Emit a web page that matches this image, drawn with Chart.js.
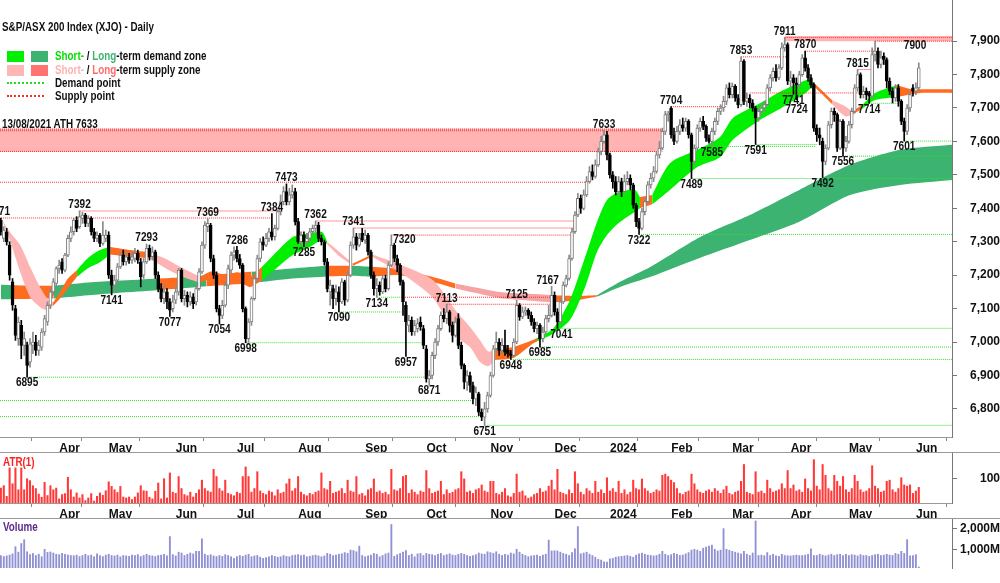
<!DOCTYPE html>
<html>
<head>
<meta charset="utf-8">
<script src="https://cdn.jsdelivr.net/npm/chart.js@4.4.1/dist/chart.umd.min.js"></script>
<style>
  body { margin: 0; background: #fff; }
  #wrap { position: relative; width: 1000px; height: 583px; overflow: hidden;
          font-family: 'Liberation Sans Narrow', 'Arial Narrow', 'Liberation Sans', Arial, sans-serif;
          font-weight: bold; font-size: 12px; color: #111; }
  canvas { position: absolute; left: 0; }
  .sep { position: absolute; left: 0; width: 1000px; height: 1px; background: #999; z-index: 2; }
  .txt { position: absolute; white-space: nowrap; line-height: 14px; z-index: 3;
         transform: scaleX(0.82); transform-origin: 0 0; }
  .sw { position: absolute; width: 17px; height: 11px; z-index: 3; }
  .dot { position: absolute; width: 37px; height: 0; border-top: 2px dotted; z-index: 3; }
</style>
</head>
<body>
<div id="wrap">
  <canvas id="cMain" width="1000" height="452" style="top:0"></canvas>
  <canvas id="cAtr" width="1000" height="66" style="top:452px"></canvas>
  <canvas id="cVol" width="1000" height="65" style="top:518px"></canvas>
  <div class="sep" style="top:452px"></div>
  <div class="sep" style="top:518px"></div>

  <div class="txt" style="left:2px;top:20px">S&amp;P/ASX 200 Index (XJO) - Daily</div>
  <div class="sw" style="left:7px;top:51px;background:#00ee00"></div>
  <div class="sw" style="left:31px;top:51px;background:#3cb371"></div>
  <div class="txt" style="left:55px;top:49px"><span style="color:#00dd00">Short-</span> / <span style="color:#3cb371">Long</span>-term demand zone</div>
  <div class="sw" style="left:7px;top:65px;background:#ffb6b6"></div>
  <div class="sw" style="left:31px;top:65px;background:#ff7373"></div>
  <div class="txt" style="left:55px;top:63px"><span style="color:#ffb0b0">Short-</span> / <span style="color:#ff6b6b">Long</span>-term supply zone</div>
  <div class="dot" style="left:7px;top:82px;border-color:#22dd22"></div>
  <div class="txt" style="left:55px;top:76px">Demand point</div>
  <div class="dot" style="left:7px;top:95px;border-color:#ff2a2a"></div>
  <div class="txt" style="left:55px;top:89px">Supply point</div>
  <div class="txt" style="left:2px;top:117px">13/08/2021 ATH 7633</div>
  <div class="txt" style="left:3px;top:455px;color:#ff2020">ATR(1)</div>
  <div class="txt" style="left:3px;top:520px;color:#5b2a8c">Volume</div>
</div>

<script>
// ---- axis labels ----
const monthIdx = [19, 36, 59, 80, 101, 124, 145, 167, 189, 208, 229, 250, 270, 290, 313];
const monthLbl = ['Apr', 'May', 'Jun', 'Jul', 'Aug', 'Sep', 'Oct', 'Nov', 'Dec', '2024', 'Feb', 'Mar', 'Apr', 'May', 'Jun'];
const priceTicks = [6800, 6900, 7000, 7100, 7200, 7300, 7400, 7500, 7600, 7700, 7800, 7900];
const atrTicks = [100];
const volTicks = [1000, 2000];

// ---- daily candles (trading day index 0 = 7 Mar 2023) ----
const opens = [
  7364,7310,7330,7290,7180,7100,7010,7050,6990,6990,
  6940,6990,7000,6975,6985,7030,7060,7110,7150,7175,
  7220,7240,7215,7260,7310,7330,7365,7345,7370,7380,
  7355,7370,7330,7310,7320,7295,7310,7320,7200,7170,
  7185,7225,7260,7240,7255,7245,7250,7265,7240,7200,
  7240,7280,7255,7270,7200,7160,7130,7150,7120,7100,
  7125,7150,7215,7130,7140,7120,7135,7120,7160,7210,
  7290,7345,7350,7250,7200,7100,7080,7110,7170,7215,
  7260,7275,7250,7230,7100,7010,7060,7130,7190,7250,
  7300,7290,7310,7330,7315,7340,7390,7420,7450,7420,
  7440,7450,7360,7300,7320,7300,7310,7330,7340,7350,
  7310,7300,7240,7150,7160,7130,7150,7120,7180,7125,
  7200,7290,7315,7290,7325,7305,7320,7270,7200,7160,
  7170,7150,7190,7160,7230,7290,7250,7230,7180,7110,
  7050,7065,7030,7040,7060,7040,6980,6890,6900,6960,
  7000,7040,7080,7070,7090,7050,7020,7070,6990,6930,
  6880,6900,6870,6830,6845,6790,6775,6800,6840,6900,
  6980,7000,6975,6990,6975,6965,6960,7000,7110,7075,
  7090,7095,7080,7060,7040,7050,7010,7030,7070,7080,
  7140,7090,7060,7120,7170,7190,7250,7330,7380,7430,
  7400,7440,7480,7510,7495,7530,7570,7600,7620,7560,
  7500,7480,7450,7480,7450,7480,7490,7470,7410,7360,
  7340,7390,7420,7470,7490,7510,7560,7580,7630,7680,
  7700,7620,7600,7630,7650,7640,7660,7620,7540,7580,
  7640,7660,7645,7610,7600,7630,7660,7690,7700,7720,
  7760,7740,7765,7730,7710,7840,7720,7730,7715,7700,
  7670,7690,7700,7710,7760,7790,7810,7790,7820,7880,
  7890,7780,7790,7775,7770,7800,7850,7820,7790,7770,
  7640,7620,7600,7540,7580,7650,7690,7680,7580,7660,
  7580,7600,7650,7690,7760,7800,7740,7750,7745,7735,
  7860,7870,7830,7855,7845,7780,7750,7730,7760,7720,
  7660,7630,7700,7760,7750,7760
];
const highs = [
  7371,7345,7340,7300,7190,7110,7075,7065,7030,7000,
  7010,7030,7020,7005,7040,7080,7120,7160,7190,7225,
  7245,7250,7265,7320,7345,7370,7375,7392,7388,7385,
  7378,7375,7340,7330,7325,7360,7335,7330,7215,7200,
  7235,7270,7275,7270,7265,7270,7280,7275,7250,7250,
  7293,7290,7285,7275,7210,7175,7170,7160,7130,7140,
  7165,7220,7220,7155,7150,7150,7145,7170,7220,7300,
  7360,7369,7355,7260,7210,7110,7125,7180,7230,7270,
  7285,7286,7262,7235,7105,7070,7135,7200,7260,7310,
  7315,7325,7340,7384,7350,7395,7440,7465,7473,7460,
  7470,7460,7370,7330,7330,7325,7340,7350,7362,7358,
  7320,7305,7250,7185,7170,7170,7165,7190,7185,7210,
  7300,7341,7325,7325,7340,7335,7325,7275,7210,7190,
  7180,7200,7200,7240,7320,7295,7260,7235,7185,7120,
  7080,7075,7065,7070,7075,7050,6990,6915,6970,7010,
  7050,7090,7100,7113,7095,7060,7075,7085,7000,6935,
  6915,6910,6880,6865,6850,6800,6820,6850,6910,6990,
  7030,7010,7010,7036,6990,6975,7010,7125,7115,7105,
  7105,7100,7090,7070,7060,7055,7045,7080,7110,7167,
  7150,7100,7130,7180,7200,7260,7340,7390,7445,7440,
  7455,7495,7525,7530,7545,7580,7615,7633,7630,7565,
  7510,7495,7495,7490,7500,7510,7500,7475,7415,7370,
  7400,7430,7480,7505,7525,7570,7600,7640,7690,7690,
  7704,7640,7645,7665,7670,7670,7665,7625,7590,7650,
  7670,7675,7650,7620,7640,7670,7700,7710,7735,7770,
  7775,7775,7770,7740,7853,7845,7745,7740,7725,7705,
  7700,7710,7720,7770,7800,7820,7830,7830,7895,7911,
  7895,7810,7800,7790,7810,7860,7870,7830,7800,7775,
  7650,7640,7610,7590,7660,7700,7700,7685,7665,7665,
  7615,7660,7700,7770,7815,7805,7765,7760,7750,7880,
  7900,7880,7870,7865,7850,7790,7760,7770,7770,7725,
  7670,7710,7750,7770,7775,7835
];
const lows = [
  7320,7300,7290,7185,7095,7005,6990,6950,6960,6895,
  6925,6965,6960,6960,6975,7020,7050,7100,7140,7165,
  7205,7205,7210,7255,7300,7320,7330,7340,7355,7345,
  7345,7320,7300,7300,7285,7290,7300,7190,7141,7150,
  7180,7220,7230,7230,7235,7235,7240,7235,7165,7190,
  7235,7245,7245,7190,7150,7120,7115,7100,7077,7090,
  7115,7140,7120,7110,7105,7110,7100,7110,7155,7205,
  7280,7330,7240,7190,7090,7054,7070,7105,7160,7205,
  7245,7240,7220,7090,6998,7000,7050,7125,7180,7240,
  7275,7285,7300,7305,7305,7335,7380,7410,7410,7410,
  7430,7350,7295,7290,7285,7290,7300,7320,7330,7300,
  7290,7230,7150,7110,7100,7110,7090,7115,7110,7120,
  7195,7280,7275,7285,7300,7295,7260,7190,7140,7134,
  7140,7145,7150,7155,7225,7240,7210,7170,7080,6957,
  7030,7020,7020,7030,7035,6980,6880,6871,6890,6950,
  6990,7035,7060,7055,7030,7000,7015,6980,6920,6860,
  6855,6850,6815,6810,6780,6765,6751,6790,6835,6895,
  6970,6960,6965,6960,6955,6948,6955,6995,7065,7070,
  7080,7070,7050,7030,7025,6985,7000,7025,7060,7075,
  7080,7041,7055,7115,7165,7185,7245,7325,7375,7385,
  7395,7435,7475,7485,7490,7525,7560,7595,7545,7490,
  7460,7440,7440,7435,7445,7470,7455,7400,7345,7322,
  7335,7380,7415,7460,7480,7505,7550,7575,7620,7660,
  7610,7590,7595,7620,7630,7630,7610,7489,7530,7575,
  7630,7635,7600,7595,7585,7620,7650,7680,7690,7710,
  7730,7730,7720,7700,7705,7710,7705,7700,7690,7591,
  7660,7680,7690,7705,7750,7780,7780,7785,7815,7870,
  7770,7760,7741,7724,7760,7795,7810,7780,7760,7630,
  7600,7590,7492,7530,7575,7640,7660,7570,7575,7556,
  7570,7595,7640,7685,7750,7730,7730,7725,7714,7730,
  7840,7820,7820,7830,7760,7740,7715,7720,7705,7650,
  7601,7620,7690,7735,7740,7755
];
const closes = [
  7330,7335,7300,7200,7110,7020,7060,6990,7010,6930,
  6995,7000,6975,6990,7030,7070,7110,7150,7180,7220,
  7230,7215,7260,7310,7330,7365,7340,7375,7380,7355,
  7370,7330,7310,7320,7295,7320,7320,7200,7170,7185,
  7225,7260,7240,7255,7245,7255,7265,7245,7195,7240,
  7280,7255,7270,7200,7160,7130,7150,7120,7095,7120,
  7150,7215,7130,7140,7120,7135,7115,7160,7210,7290,
  7350,7355,7250,7200,7100,7080,7110,7170,7220,7260,
  7270,7250,7230,7100,7010,7060,7130,7190,7250,7300,
  7290,7310,7330,7315,7340,7390,7420,7450,7420,7440,
  7450,7360,7300,7320,7300,7310,7330,7340,7350,7310,
  7300,7240,7160,7170,7130,7150,7120,7180,7125,7200,
  7290,7315,7290,7310,7305,7320,7270,7200,7160,7170,
  7150,7190,7160,7230,7290,7250,7230,7180,7120,7060,
  7065,7030,7050,7055,7045,6990,6890,6900,6960,7000,
  7040,7080,7070,7090,7050,7020,7060,6990,6930,6880,
  6900,6870,6830,6850,6790,6775,6800,6840,6900,6980,
  7000,6975,6990,6970,6965,6960,7000,7110,7075,7090,
  7095,7080,7060,7040,7050,7010,7030,7070,7080,7140,
  7090,7060,7120,7170,7190,7250,7330,7380,7430,7400,
  7440,7480,7510,7495,7530,7570,7600,7620,7560,7500,
  7480,7450,7480,7450,7480,7490,7470,7410,7360,7340,
  7390,7420,7470,7490,7510,7560,7580,7630,7680,7685,
  7620,7600,7630,7650,7640,7660,7620,7540,7580,7640,
  7660,7645,7610,7600,7630,7660,7690,7700,7720,7760,
  7740,7765,7730,7710,7840,7720,7730,7715,7700,7670,
  7690,7700,7710,7760,7790,7810,7790,7820,7880,7890,
  7780,7790,7775,7770,7800,7850,7820,7790,7770,7640,
  7620,7610,7540,7580,7650,7690,7680,7580,7660,7580,
  7600,7650,7690,7760,7800,7740,7750,7740,7735,7860,
  7870,7830,7850,7845,7780,7750,7730,7760,7720,7660,
  7630,7700,7740,7750,7760,7820
];

// ---- lower panels ----
const atr = [
  62,72,28,146,80,146,55,146,55,101,
  93,72,60,37,24,86,31,72,55,62,
  17,35,39,107,55,25,42,21,35,10,
  21,39,8,28,42,32,51,88,69,55,
  44,69,25,21,25,14,25,42,72,51,
  49,24,17,49,83,17,101,21,125,45,
  40,110,60,35,30,45,25,40,55,95,
  60,50,45,140,110,60,50,95,40,35,
  30,45,40,110,150,110,45,60,130,50,
  40,35,50,45,30,55,40,45,80,100,
  50,60,110,45,35,30,40,35,45,50,
  125,60,55,90,40,45,50,60,40,95,
  50,45,110,35,40,30,55,60,100,45,
  50,40,45,35,140,55,50,60,110,115,
  40,55,45,35,50,45,135,60,40,45,
  50,90,35,55,40,45,55,60,130,100,
  45,50,40,55,60,75,50,45,90,90,
  40,35,45,60,30,25,40,120,45,50,
  30,20,25,35,40,60,45,50,70,95,
  55,140,45,40,35,55,40,130,80,45,
  35,60,50,40,90,45,55,40,105,50,
  60,45,90,40,55,35,45,95,60,55,
  100,60,50,40,45,55,50,115,120,110,
  95,85,60,40,35,45,50,120,80,55,
  45,40,50,55,45,60,50,40,55,70,
  40,35,45,50,90,160,45,40,35,130,
  45,50,40,95,60,45,50,55,80,60,
  135,60,75,50,55,45,100,60,50,180,
  70,55,160,115,60,50,115,90,70,110,
  55,45,60,115,90,55,45,50,60,155,
  70,60,45,50,90,95,55,45,60,105,
  75,70,75,40,50,65
];
const volume = [  // millions
  700,650,680,720,780,1125,860,1275,1460,880,
  750,800,700,760,640,1000,850,870,820,760,
  740,800,760,720,700,690,720,650,700,760,
  690,720,640,780,700,650,720,760,700,680,
  720,640,700,680,660,720,700,740,650,700,
  760,700,680,650,700,720,760,680,1610,740,
  680,860,820,700,760,820,780,900,900,1500,
  760,700,740,680,650,700,660,740,700,640,
  560,650,700,660,720,760,640,680,700,620,
  560,600,640,700,660,620,640,700,660,640,
  700,720,740,700,720,640,660,700,720,680,
  640,680,800,760,700,720,760,780,840,800,
  960,940,880,1150,700,640,680,720,800,760,
  640,700,780,820,2190,660,740,800,860,940,
  700,760,640,780,800,700,800,760,740,700,
  760,800,700,740,780,720,700,760,800,760,
  700,660,700,740,820,780,760,880,840,800,
  880,760,700,760,720,820,780,1000,860,760,
  700,640,680,700,720,660,720,760,1440,920,
  930,920,860,800,760,700,840,1025,2090,780,
  820,860,760,700,620,520,480,400,380,540,
  560,620,640,660,680,700,660,620,720,780,
  820,760,720,700,680,700,760,900,760,700,
  740,800,760,700,720,780,840,960,1000,960,
  900,1050,1100,1150,1200,1000,920,960,1990,1000,
  950,900,860,820,780,900,760,700,820,2360,
  700,720,690,840,700,760,690,660,760,700,
  690,680,700,720,700,700,720,760,1025,700,
  700,760,720,680,720,760,700,740,760,700,
  760,700,740,720,680,740,700,700,660,700,
  740,760,700,720,760,720,700,800,760,900,
  800,1460,680,700,740,150
];

// ---- short-term ribbon (edges read at sample days) ----
const stIdx  = [0.7,3.1,6.6,10,13.4,15.8,17.9,20.3,23,26.1,29.9,34,37.5,44.3,51.2,56.3,61.5,68.3,72.5,77,81,85.5,89.6,95.8,100.2,106,110.2,112,116.4,120.8,127.4,137,148.3,156.5,161,164.4,167.2,169.6,175.7,182.6,184,189.5,195.3,200.5,204.6,208,212,217.6,219.3,223.5,229.6,238.9,246.8,251.2,260.5,268.4,276.6,278.7,285.2,289.7,292.1,295.5,300,307.5,313,315.4,326.4];
const stHi   = [7362,7329,7290,7225,7165,7132,7118,7150,7190,7215,7251,7275,7284,7275,7268,7250,7225,7195,7212,7200,7209,7195,7225,7280,7314,7326,7329,7300,7268,7235,7262,7232,7185,7090,7045,7006,6972,6978,6985,7006,7012,7040,7126,7254,7360,7425,7449,7455,7434,7440,7535,7574,7613,7670,7714,7753,7784,7778,7724,7705,7690,7708,7745,7768,7755,7756,7756];
const stLo   = [7360,7305,7210,7135,7105,7096,7108,7130,7160,7195,7221,7239,7262,7255,7250,7222,7198,7177,7190,7175,7185,7165,7185,7230,7260,7284,7305,7292,7255,7228,7255,7208,7132,7015,6985,6940,6928,6946,6952,6996,7002,7025,7066,7165,7270,7320,7356,7390,7400,7412,7455,7523,7553,7605,7664,7703,7748,7768,7712,7675,7680,7697,7724,7733,7742,7745,7745];
const stZone = ['supply','supply','supply','supply','supply','supply','turn','turn','turn','demand','demand','demand','turn','turn','supply','supply','supply','turn','turn','turn','turn','turn','demand','demand','demand','demand','demand','supply','supply','turn','supply','supply','supply','supply','supply','supply','supply','turn','turn','turn','demand','demand','demand','demand','demand','demand','demand','demand','turn','demand','demand','demand','demand','demand','demand','demand','demand','turn','supply','supply','turn','demand','demand','turn','turn','turn','turn'];

// ---- long-term ribbon ----
const ltIdx  = [0,3.5,18,30,40,54,61.5,70.5,86,100,112,120.5,127.4,137,148,156,171,180,189.5,197,204.6,212.5,223,240,257,274,291.4,308.6,326.4];
const ltHi   = [7171,7170,7168,7178,7183,7190,7193,7200,7210,7220,7228,7228,7225,7218,7195,7175,7150,7145,7140,7138,7140,7180,7225,7314,7380,7455,7530,7575,7590];
const ltLo   = [7128,7128,7130,7140,7147,7155,7160,7167,7176,7190,7196,7198,7195,7200,7180,7160,7132,7125,7118,7124,7136,7165,7195,7252,7305,7360,7440,7470,7485];
const ltZone = ['demand','turn','demand','demand','demand','turn','demand','turn','demand','demand','turn','demand','turn','turn','turn','supply','supply','supply','turn','turn','demand','demand','demand','demand','demand','demand','demand','demand','demand'];

// ---- supply / demand points ----
const supplyLvl  = [7637, 7632, 7570, 7478, 7392, 7371, 7362, 7341, 7320, 7134, 7113, 7704, 7745, 7853, 7870, 7815, 7911, 7900];
const supplyFrom = [-0.3, -0.3, -0.3, -0.3, 27, 0, 108, 121, 134, 138, 153, 230, 257, 254, 276, 294, 269, 300];
const supplyTo   = [227, 227, 227, 200.5, 96.5, 93, 197, 197, 196.5, 189, 188.5, 249, 295, 269.5, 300, 299.5, 326.4, 326.4];
const demandLvl  = [6895, 6825, 6777, 6998, 7090, 7134, 6751, 6948, 6985, 7041, 7322, 7489, 7585, 7591, 7556, 7601, 7714];
const demandFrom = [9, -0.3, -0.3, 84, 116, 129, 166, 175, 185, 191, 219, 237, 244, 259, 289, 310, 298];
const demandTo   = [146, 161.5, 165, 145.5, 137.5, 138, 326.4, 326.4, 326.4, 326.4, 326.4, 326.4, 279.5, 280, 326.4, 326.4, 308.5];

// shaded supply zones (ATH zone, March high zone)
const bandLo   = [7569, 7900];
const bandHi   = [7638, 7915];
const bandFrom = [-0.3, 269];
const bandTo   = [227, 326.4];

// ---- swing labels ----
const lblIdx  = [0, 9, 27, 38, 50, 58, 71, 75, 81, 84, 93, 98, 104, 108, 116, 121, 129, 134, 139, 147, 153, 166, 175, 177, 185, 189, 191, 207, 219, 230, 237, 244, 254, 259, 269, 272, 273, 276, 282, 289, 294, 298, 300, 310];
const lblVal  = [7371, 6895, 7392, 7141, 7293, 7077, 7369, 7054, 7286, 6998, 7384, 7473, 7285, 7362, 7090, 7341, 7134, 7320, 6957, 6871, 7113, 6751, 6948, 7125, 6985, 7167, 7041, 7633, 7322, 7704, 7489, 7585, 7853, 7591, 7911, 7741, 7724, 7870, 7492, 7556, 7815, 7714, 7900, 7601];
const lblKind = ['high','low','high','low','high','low','high','low','high','low','high','high','low','high','low','high','low','high','low','low','high','low','low','high','low','high','low','high','low','high','low','low','high','low','high','low','low','high','low','low','high','low','high','low'];

// ---------------------------------------------------------------
const FONT = "'Liberation Sans Narrow', 'Arial Narrow', 'Liberation Sans', Arial, sans-serif";
Chart.defaults.font.family = FONT;
Chart.defaults.font.size = 12;
Chart.defaults.font.weight = 'bold';
Chart.defaults.color = '#111';

const xMin = -0.3, xMax = 326.4;
const isUp = i => closes[i] >= opens[i];

const stColors = { supply: '#ffb4b4', turn: '#ff6b1f', demand: '#00f000' };
const ltColors = { supply: '#f6a3a3', turn: '#ff6b1f', demand: '#3cb371' };

function ribbon(idx, hi, lo, zone, colors, order) {
  const out = [];
  let s = 0;
  for (let k = 1; k < idx.length; k++) {
    if (k === idx.length - 1 || zone[k] !== zone[s]) {
      const pts = [];
      for (let j = s; j <= k; j++) pts.push(j);
      out.push({ type: 'line', data: pts.map(j => ({ x: idx[j], y: hi[j] })),
                 borderWidth: 0, borderColor: 'rgba(0,0,0,0)', pointRadius: 0, fill: false, tension: 0.25, order });
      out.push({ type: 'line', data: pts.map(j => ({ x: idx[j], y: lo[j] })),
                 borderWidth: 0, borderColor: 'rgba(0,0,0,0)', pointRadius: 0, fill: '-1', tension: 0.25,
                 backgroundColor: colors[zone[s]], order });
      s = k;
    }
  }
  return out;
}

function level(v, from, to, color) {
  return { type: 'line', data: [{ x: from, y: v }, { x: to, y: v }], borderColor: color, borderWidth: 1,
           borderDash: [1, 1], pointRadius: 0, fill: false, order: 3 };
}

const datasets = [];
datasets.push({
  type: 'bar', data: closes.map((c, i) => ({ x: i, y: [opens[i], c] })),
  backgroundColor: ctx => isUp(ctx.dataIndex) ? '#ffffff' : '#000000',
  borderColor: ctx => isUp(ctx.dataIndex) ? '#7c7c7c' : '#000000',
  borderWidth: 1, borderSkipped: false, barThickness: 3, minBarLength: 1, grouped: false, order: 0
});
datasets.push({
  type: 'bar', data: closes.map((c, i) => ({ x: i, y: [lows[i], highs[i]] })),
  backgroundColor: ctx => isUp(ctx.dataIndex) ? '#8a8a8a' : '#000000',
  barThickness: 1, grouped: false, order: 1
});
supplyLvl.forEach((v, k) => datasets.push(level(v, supplyFrom[k], supplyTo[k], '#ff3030')));
demandLvl.forEach((v, k) => datasets.push(level(v, demandFrom[k], demandTo[k], '#2fe02f')));
datasets.push(...ribbon(stIdx, stHi, stLo, stZone, stColors, 6));
datasets.push(...ribbon(ltIdx, ltHi, ltLo, ltZone, ltColors, 7));
bandLo.forEach((v, k) => {
  datasets.push({ type: 'line', data: [{ x: bandFrom[k], y: bandHi[k] }, { x: bandTo[k], y: bandHi[k] }],
                  borderColor: 'rgba(0,0,0,0)', borderWidth: 0, pointRadius: 0, fill: false, order: 8 });
  datasets.push({ type: 'line', data: [{ x: bandFrom[k], y: v }, { x: bandTo[k], y: v }],
                  borderColor: 'rgba(0,0,0,0)', borderWidth: 0, pointRadius: 0, fill: '-1',
                  backgroundColor: '#ffb3b3', order: 8 });
});

const labelNudge = { 7371: [-2, 0], 7320: [13, 11], 7900: [40, 11], 7724: [0, 4], 7167: [-4, 0], 7041: [4, 0] };
const swingLabels = {
  id: 'swingLabels',
  afterDatasetsDraw(chart) {
    const { ctx, scales: { x, y } } = chart;
    ctx.save();
    ctx.font = 'bold 12px ' + FONT;
    ctx.fillStyle = '#111';
    ctx.textAlign = 'center';
    ctx.textBaseline = 'middle';
    lblIdx.forEach((d, k) => {
      const n = labelNudge[lblVal[k]] || [0, 0];
      const px = x.getPixelForValue(d) + n[0];
      const py = y.getPixelForValue(lblVal[k]) + (lblKind[k] === 'high' ? -6 : 6) + n[1];
      ctx.save();
      ctx.translate(px, py);
      ctx.scale(0.84, 1);        // narrow face like the original
      ctx.fillText(String(lblVal[k]), 0, 0);
      ctx.restore();
    });
    ctx.restore();
  }
};

function monthAxis(show) {
  return {
    type: 'linear', min: xMin, max: xMax, offset: false, display: show,
    afterBuildTicks: s => { s.ticks = monthIdx.map(v => ({ value: v })); },
    afterFit: s => { s.height = 15; s.paddingLeft = 0; s.paddingRight = 0; },
    grid: { drawOnChartArea: false, drawTicks: true, tickLength: 4, color: '#888' },
    border: { display: true, color: '#999' },
    ticks: { autoSkip: false, maxRotation: 0, align: 'start', labelOffset: 3, padding: 0,
             callback: (v, i) => monthLbl[i] }
  };
}
function valueAxis(min, max, tickVals, pad, fmt) {
  return {
    position: 'right', min, max,
    afterBuildTicks: s => { s.ticks = tickVals.map(v => ({ value: v })); },
    afterFit: s => { s.width = 48; s.paddingTop = 0; s.paddingBottom = 0; },
    grid: { drawOnChartArea: false, tickLength: 5, color: '#777' },
    border: { display: true, color: '#777' },
    ticks: { crossAlign: 'far', padding: pad, callback: fmt }
  };
}
const base = {
  responsive: false, animation: false, events: [], devicePixelRatio: 1,
  layout: { padding: 0 },
  plugins: { legend: { display: false }, tooltip: { enabled: false } }
};

new Chart(document.getElementById('cMain'), {
  type: 'bar',
  data: { datasets },
  options: { ...base,
    scales: { x: monthAxis(true), y: valueAxis(6716, 8023, priceTicks, 11, v => v.toLocaleString('en-US')) } },
  plugins: [swingLabels]
});

new Chart(document.getElementById('cAtr'), {
  type: 'bar',
  data: { datasets: [{ data: atr.map((v, i) => ({ x: i, y: v })), backgroundColor: '#ff3838',
                       barThickness: 1.4, grouped: false }] },
  options: { ...base,
    scales: { x: monthAxis(true), y: valueAxis(0, 212, atrTicks, 20, v => String(v)) } }
});

new Chart(document.getElementById('cVol'), {
  type: 'bar',
  data: { datasets: [{ data: volume.map((v, i) => ({ x: i, y: v })), backgroundColor: '#9090d4',
                       barThickness: 1.2, grouped: false }] },
  options: { ...base,
    scales: { x: monthAxis(false), y: valueAxis(100, 2500, volTicks, 2, v => v.toLocaleString('en-US') + 'M') } }
});
</script>
</body>
</html>
